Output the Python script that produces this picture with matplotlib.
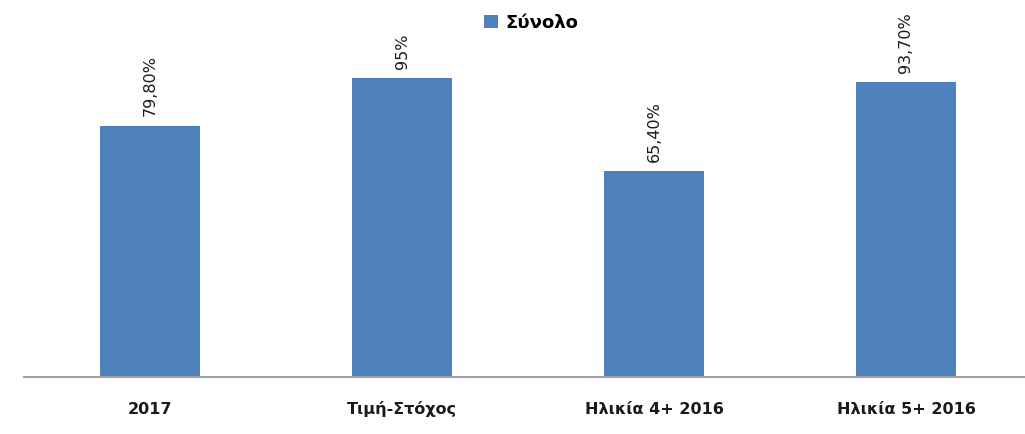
import matplotlib.pyplot as plt

categories = ["2017", "Τιμή-Στόχος", "Ηλικία 4+ 2016", "Ηλικία 5+ 2016"]
values = [79.8, 95, 65.4, 93.7]
labels = ["79,80%", "95%", "65,40%", "93,70%"]

plt.rcParams['font.family'] = ['DejaVu Sans']

fig = plt.figure(figsize=(10.25, 4.34), dpi=100)
ax = fig.add_axes([24 / 1025, 57 / 434, 1001 / 1025, 367 / 434])

x = range(len(categories))
bars = ax.bar(x, values, width=0.40, color="#4F81BD", label="Σύνολο", zorder=2)

for b, lab in zip(bars, labels):
    ax.text(b.get_x() + b.get_width() / 2, b.get_height() + 3, lab,
            rotation=90, ha="center", va="bottom", fontsize=11.5, color="#1a1a1a")

ax.set_xlim(-0.5, 1001 / 252 - 0.5)
ax.set_ylim(0, 367 / 3.147)
ax.set_xticks(list(x))
ax.set_xticklabels(categories, fontsize=11.5, fontweight="bold", color="#1a1a1a",
                   va="center_baseline")
ax.tick_params(axis="x", length=0, pad=22)
ax.set_yticks([])
for s in ["top", "right", "left"]:
    ax.spines[s].set_visible(False)
ax.spines["bottom"].set_color("#A0A0A0")
ax.spines["bottom"].set_linewidth(1.5)

fig.legend(loc="upper center", bbox_to_anchor=(0.518, 1.005), frameon=False,
           handlelength=0.75, handleheight=0.75, handletextpad=0.4,
           prop={"size": 13, "weight": "bold"})

fig.savefig("out.png", dpi=100)
